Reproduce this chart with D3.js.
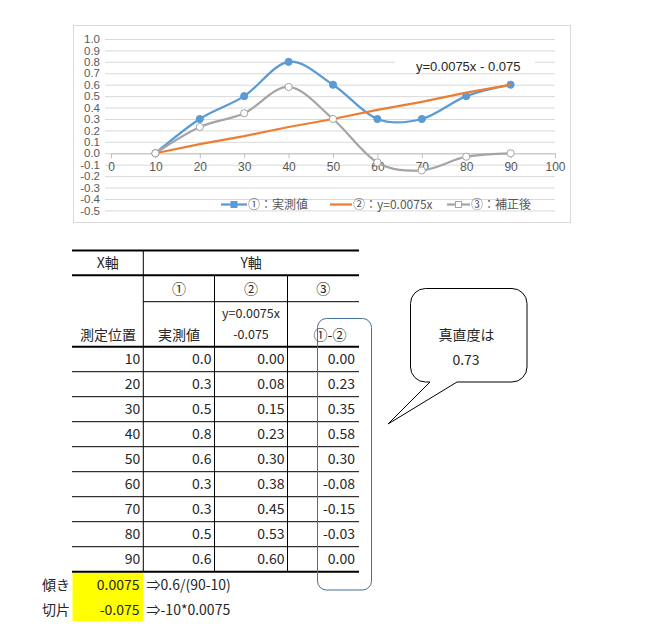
<!DOCTYPE html>
<html><head><meta charset="utf-8">
<script src="https://cdn.jsdelivr.net/npm/d3@7"></script>
<style>
body{margin:0;background:#fff;}
svg{display:block;}
</style></head>
<body>
<svg id="c" width="647" height="624"></svg>
<script>
// ---- data ----
const positions = [10,20,30,40,50,60,70,80,90];
const measured  = [0.0,0.3,0.5,0.8,0.6,0.3,0.3,0.5,0.6];
const fitted    = [0.00,0.08,0.15,0.23,0.30,0.38,0.45,0.53,0.60];
const corrected = [0.00,0.23,0.35,0.58,0.30,-0.08,-0.15,-0.03,0.00];
const xTicks = [0,10,20,30,40,50,60,70,80,90,100];
const yTicks = [1.0,0.9,0.8,0.7,0.6,0.5,0.4,0.3,0.2,0.1,0.0,-0.1,-0.2,-0.3,-0.4,-0.5];
const seriesNames = ["①：実測値","②：y=0.0075x","③：補正後"];
const trendLabel = "y=0.0075x - 0.075";
const slope = "0.0075", intercept = "-0.075";
const slopeNote = "⇒0.6/(90-10)", interceptNote = "⇒-10*0.0075";
const calloutLines = ["真直度は","0.73"];

const svg = d3.select("#c");
const CF = "'Liberation Sans','Noto Sans',sans-serif";
const JF = "'Noto Sans CJK JP','Noto Sans',sans-serif";
const TXT = "#595959";
const fix = n => v => { const s = (Math.abs(v) < 1e-9 ? 0 : v).toFixed(n); return s === "-0.00" ? "0.00" : s; };

// chart box
svg.append("rect").attr("x",73.5).attr("y",25.5).attr("width",497).attr("height",197)
  .attr("fill","#fff").attr("stroke","#d9d9d9");

const x = d3.scaleLinear().domain([0,100]).range([111,555]);
const y = d3.scaleLinear().domain([-0.5,1.0]).range([210.4,39]);

// y gridlines + labels
const ya = svg.append("g").attr("transform","translate(105,0)")
  .call(d3.axisLeft(y).tickValues(yTicks).tickFormat(fix(1)).tickSize(-450).tickPadding(5));
ya.select(".domain").remove();
ya.selectAll("line").attr("stroke","#d9d9d9");
ya.selectAll("text").attr("fill",TXT).style("font-family",CF).style("font-size","11.5px");

// x axis at y=0
const xa = svg.append("g").attr("transform",`translate(0,${y(0)})`)
  .call(d3.axisBottom(x).tickValues(xTicks).tickSize(5).tickSizeOuter(0).tickPadding(4));
xa.select(".domain").attr("stroke","#bfbfbf");
xa.selectAll("line").attr("stroke","#bfbfbf");
xa.selectAll("text").attr("fill",TXT).style("font-family",CF).style("font-size","12px");

// trend label background + text
svg.append("rect").attr("x",395).attr("y",56).attr("width",140).attr("height",15).attr("fill","#fff");
svg.append("text").attr("x",416).attr("y",71).text(trendLabel)
  .attr("fill","#262626").style("font-family",CF).style("font-size","13px");

const colors = ["#5b9bd5","#ed7d31","#a5a5a5"];
const smooth = d3.line().x((d,i)=>x(positions[i])).y(d=>y(d)).curve(d3.curveCatmullRom.alpha(0));
const straight = d3.line().x((d,i)=>x(positions[i])).y(d=>y(d));

// series 1
svg.append("path").attr("d",smooth(measured)).attr("fill","none").attr("stroke",colors[0]).attr("stroke-width",2.25);
svg.selectAll(".m1").data(measured).join("circle").attr("cx",(d,i)=>x(positions[i])).attr("cy",d=>y(d))
  .attr("r",3.6).attr("fill",colors[0]).attr("stroke",colors[0]);
// series 2
svg.append("path").attr("d",straight(fitted)).attr("fill","none").attr("stroke",colors[1]).attr("stroke-width",2.25);
// series 3
svg.append("path").attr("d",smooth(corrected)).attr("fill","none").attr("stroke",colors[2]).attr("stroke-width",2.25);
svg.selectAll(".m3").data(corrected).join("circle").attr("cx",(d,i)=>x(positions[i])).attr("cy",d=>y(d))
  .attr("r",3.6).attr("fill","#fff").attr("stroke",colors[2]).attr("stroke-width",1);

// legend
const ly = 204.5;
const leg = [{x1:221,x2:247,tx:248,marker:"fill"},{x1:330,x2:352,tx:353,marker:null},{x1:447,x2:470,tx:471,marker:"open"}];
leg.forEach((l,i)=>{
  svg.append("line").attr("x1",l.x1).attr("x2",l.x2).attr("y1",ly).attr("y2",ly).attr("stroke",colors[i]).attr("stroke-width",2.25);
  if(l.marker){
    const mx=(l.x1+l.x2)/2;
    svg.append("rect").attr("x",mx-3).attr("y",ly-3).attr("width",6).attr("height",6)
      .attr("fill",l.marker==="fill"?colors[i]:"#fff").attr("stroke",colors[i]).attr("stroke-width",1);
  }
  svg.append("text").attr("x",l.tx).attr("y",ly).attr("dy","0.36em").text(seriesNames[i])
    .attr("fill",TXT).style("font-family",JF).style("font-size","12px");
});

// ---- table ----
const cols = [72,143.3,214.5,287.5,359];
const rowTop = 346.7, rowH = 25;
const bTop = rowTop+positions.length*rowH;

// yellow cells (behind)
svg.append("rect").attr("x",72.5).attr("y",bTop+1).attr("width",71).attr("height",48.5).attr("fill","#ffff00");

const T = svg.append("g").style("font-family",JF).style("font-size","14px").attr("fill","#262626");
function hline(x1,x2,yy,w){T.append("line").attr("x1",x1).attr("x2",x2).attr("y1",yy).attr("y2",yy).attr("stroke","#000").attr("stroke-width",w);}
function vline(xx,y1,y2){T.append("line").attr("x1",xx).attr("x2",xx).attr("y1",y1).attr("y2",y2).attr("stroke","#000").attr("stroke-width",1);}
hline(cols[0],cols[4],250.5,2);
hline(cols[0],cols[4],275.3,2);
hline(cols[1],cols[4],301.7,1);
hline(cols[0],cols[4],rowTop,2);
positions.forEach((p,i)=>{ if(i>0) hline(cols[0],cols[4],rowTop+i*rowH,1); });
hline(cols[0],cols[4],bTop,2);
vline(cols[1],250.5,bTop);
vline(cols[2],275.3,bTop);
vline(cols[3],275.3,bTop);

function txt(s,xx,yy,anchor,size){const t=T.append("text").attr("x",xx).attr("y",yy).attr("dy","0.36em").attr("text-anchor",anchor||"start").text(s); if(size) t.style("font-size",size); return t;}
txt("X軸",(cols[0]+cols[1])/2,263,"middle");
txt("Y軸",(cols[1]+cols[4])/2,263,"middle");
txt("①",(cols[1]+cols[2])/2,289,"middle");
txt("②",(cols[2]+cols[3])/2,289,"middle");
txt("③",(cols[3]+cols[4])/2,289,"middle");
txt("y=0.0075x",(cols[2]+cols[3])/2,313.5,"middle","12.5px");
txt("-0.075",(cols[2]+cols[3])/2,334.5,"middle","12.5px");
txt("測定位置",80,334.5,"start");
txt("実測値",(cols[1]+cols[2])/2,334.5,"middle");
txt("①-②",330,334.5,"middle");
positions.forEach((p,i)=>{
  const cy = rowTop+i*rowH+rowH/2;
  txt(String(p),cols[1]-3,cy,"end");
  txt(fix(1)(measured[i]),cols[2]-3,cy,"end");
  txt(fix(2)(fitted[i]),cols[3]-3,cy,"end");
  txt(fix(2)(corrected[i]),cols[4]-4,cy,"end");
});

// slope / intercept
txt("傾き",42,bTop+13.5,"start");
txt("切片",42,bTop+38,"start");
txt(slope,139.5,bTop+13.5,"end");
txt(intercept,139.5,bTop+38,"end");
txt(slopeNote,146.5,bTop+13.5,"start");
txt(interceptNote,146.5,bTop+38,"start");

// blue highlight box
svg.append("rect").attr("x",317.5).attr("y",318.5).attr("width",54).attr("height",271.5).attr("rx",9)
  .attr("fill","none").attr("stroke","#41719c").attr("stroke-width",1);

// callout
const cx0=410.5, cy0=288.5, cx1=527, cy1=382, r=15;
const tipX=388, tipY=424, b1=430, b2=457;
const p = d3.path();
p.moveTo(cx0+r,cy0);
p.lineTo(cx1-r,cy0); p.arcTo(cx1,cy0,cx1,cy0+r,r);
p.lineTo(cx1,cy1-r); p.arcTo(cx1,cy1,cx1-r,cy1,r);
p.lineTo(b2,cy1); p.lineTo(tipX,tipY); p.lineTo(b1,cy1);
p.lineTo(cx0+r,cy1); p.arcTo(cx0,cy1,cx0,cy1-r,r);
p.lineTo(cx0,cy0+r); p.arcTo(cx0,cy0,cx0+r,cy0,r);
p.closePath();
svg.append("path").attr("d",p.toString()).attr("fill","#fff").attr("stroke","#000").attr("stroke-width",1);
svg.append("text").attr("x",466.5).attr("y",335).attr("dy","0.36em").attr("text-anchor","middle").text(calloutLines[0])
  .attr("fill","#262626").style("font-family",JF).style("font-size","14px");
svg.append("text").attr("x",466).attr("y",360).attr("dy","0.36em").attr("text-anchor","middle").text(calloutLines[1])
  .attr("fill","#262626").style("font-family",JF).style("font-size","14px");
</script>
</body></html>
